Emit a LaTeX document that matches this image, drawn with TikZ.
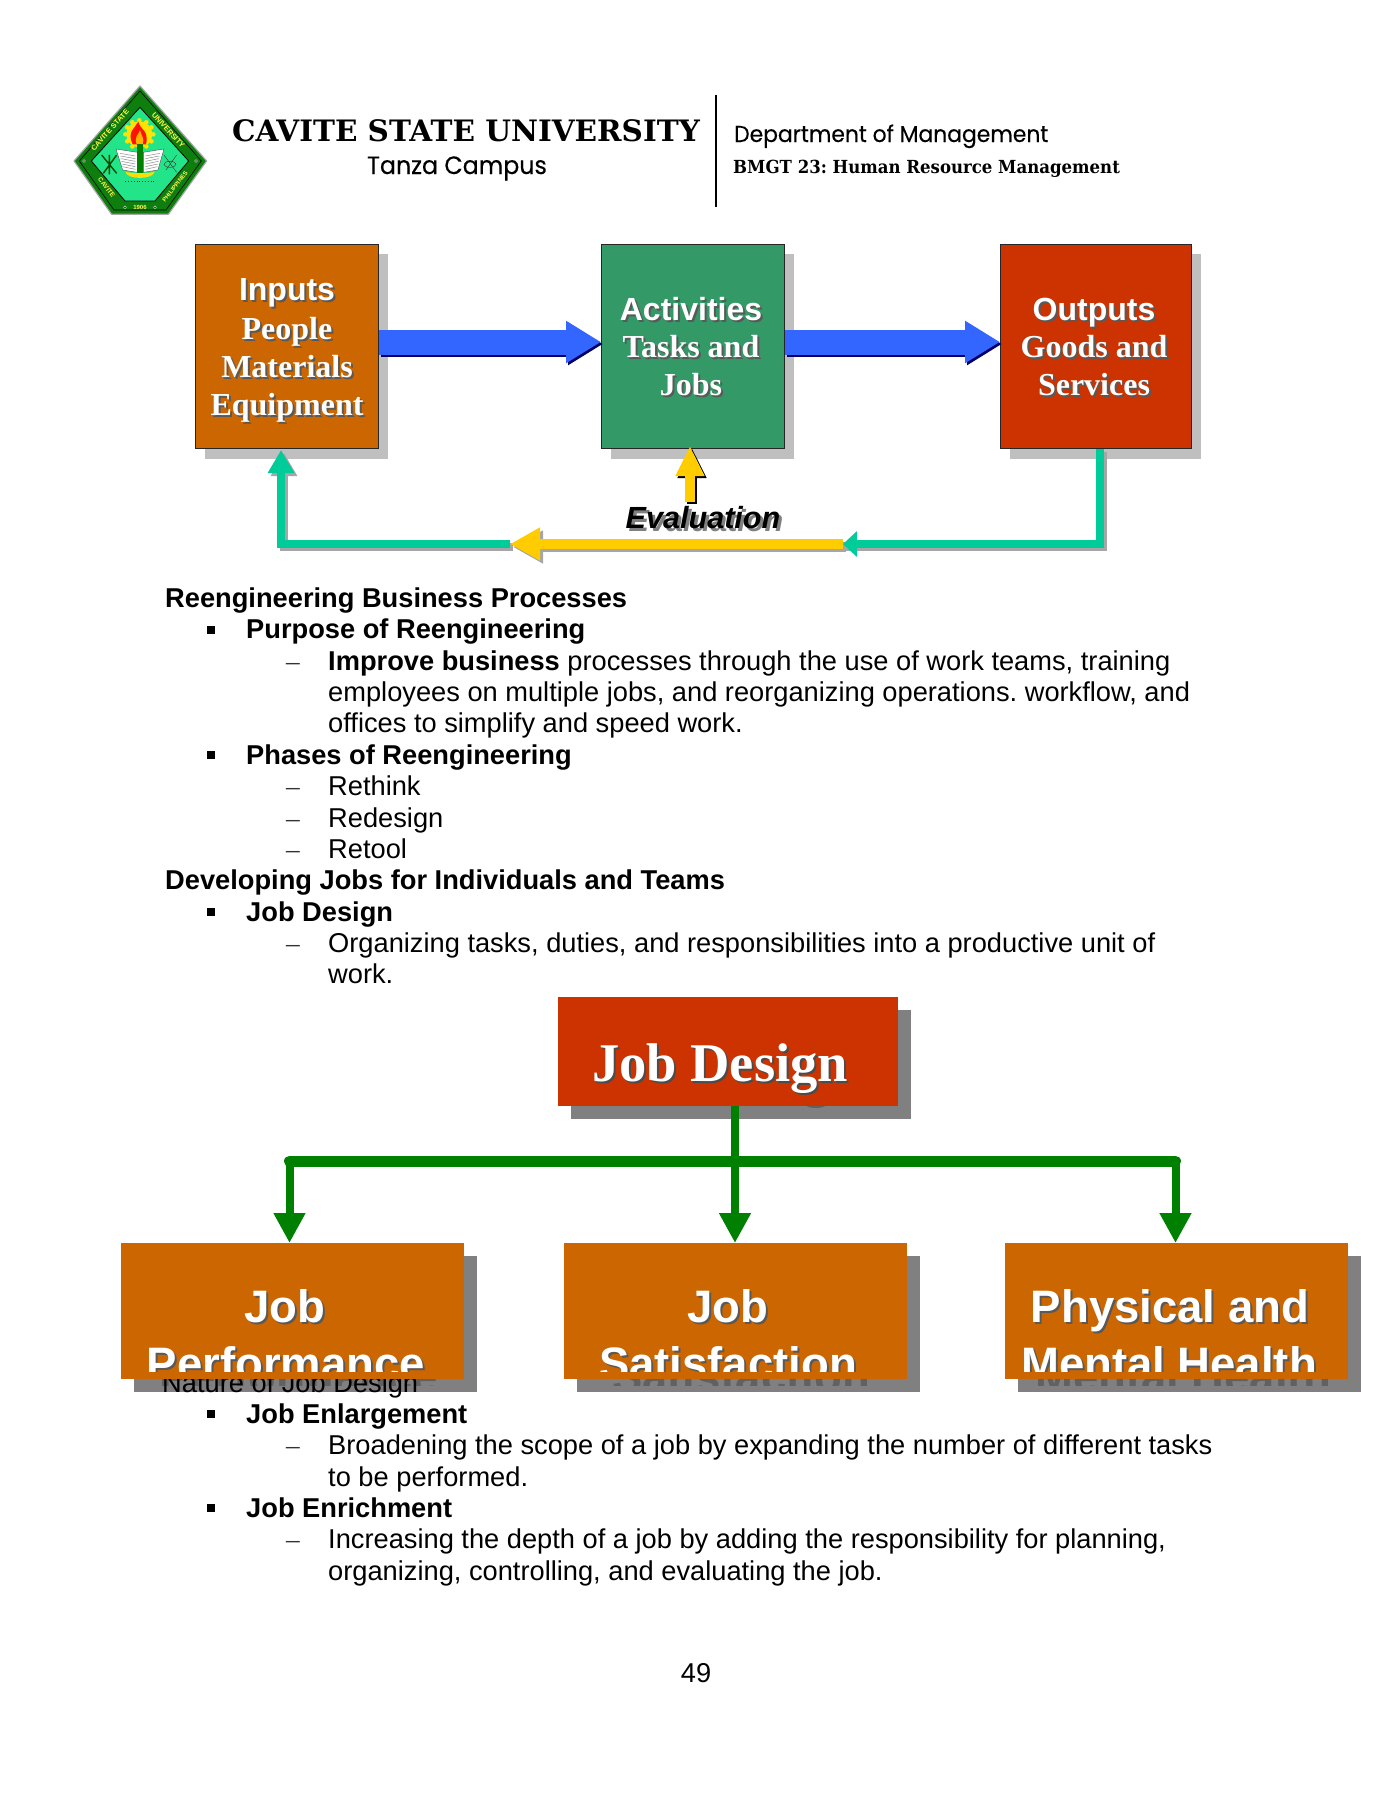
\documentclass[tikz,border=0pt]{standalone}
\usepackage{fontspec}
\usetikzlibrary{arrows.meta,calc}
\setmainfont{Liberation Sans}
\newfontfamily\tmsf{Liberation Serif}
\newfontfamily\slabf{DejaVu Serif}
\newfontfamily\slabn[FakeStretch=0.92]{DejaVu Serif}
\newfontfamily\popf[FakeStretch=0.95,FakeBold=0.3]{Poppins}
\definecolor{corange}{HTML}{CC6600}
\definecolor{cgreen}{HTML}{339966}
\definecolor{cred}{HTML}{CC3300}
\definecolor{cblue}{HTML}{3366FF}
\definecolor{cteal}{HTML}{00CC99}
\definecolor{cyell}{HTML}{FFCC00}
\definecolor{cdark}{HTML}{008000}
\definecolor{logod}{HTML}{0E7F0E}
\definecolor{logol}{HTML}{22E58A}
\tikzset{
 topbox/.style={draw=black!85,line width=1pt,anchor=north west,inner sep=0pt,minimum width=#1},
 lowbox/.style={anchor=north west,inner sep=0pt,minimum width=343pt,minimum height=136pt},
 shadowtop/.style={fill=black!25},
 shadowlow/.style={fill=black!50},
 lineb/.style={anchor=base west,inner sep=0pt,font=\fontsize{27.25}{31}\selectfont\bfseries},
 linet/.style={anchor=base west,inner sep=0pt,font=\fontsize{27.25}{31}\selectfont},
 dashn/.style={anchor=base west,inner sep=0pt,font=\fontsize{27.25}{31}\selectfont\tmsf,text=black!80},
 bul/.style={fill=black,inner sep=0pt,minimum size=8pt},
 lbl/.style={anchor=base,inner sep=0pt},
 blockarrow/.style={line width=25pt,-{Triangle[length=35pt,width=40pt]}},
 tealline/.style={line width=8pt,draw=cteal},
 gline/.style={line width=8pt,draw=cdark},
 garrow/.style={gline,-{Triangle[length=30pt,width=30pt]}},
}
% shadowed text: name, x, y, font, text
\newcommand{\shtxt}[5]{%
 \node[lbl,font=#4,text=black!65] (#1s) at (#2+2,#3+2) {#5};
 \node[lbl,font=#4,text=white] (#1) at (#2,#3) {#5};}
\newcommand{\hfA}{\fontsize{32}{38}\selectfont\bfseries}
\newcommand{\hfB}{\fontsize{32}{38}\selectfont\bfseries\tmsf}
\newcommand{\bfA}{\fontsize{45.5}{54}\selectfont\bfseries}
\newcommand{\bfB}{\fontsize{54.5}{60}\selectfont\bfseries\tmsf}
\frenchspacing
\begin{document}
\begin{tikzpicture}[x=1pt,y=-1pt]
\useasboundingbox (0,0) rectangle (1390,1800);
\fill[white] (0,0) rectangle (1390,1800);
% ---------- logo
\begin{scope}[shift={(60,75)},x=0.3333pt,y=-0.3333pt]
\filldraw[fill=logod,draw=black!35,line width=1.2pt,line join=round] (240,33)--(440,258)--(325,418)--(155,418)--(42,258)--cycle;
\draw[draw=black,line width=.6pt] (240,48)--(424,258)--(318,405)--(162,405)--(58,258)--cycle;
\filldraw[fill=logol,draw=black,line width=.8pt] (240,97)--(386,258)--(285,378)--(195,378)--(94,258)--cycle;
\foreach \i/\px/\py in {a/72/258,b/408/258,c/195/397,d/285/397}{\fill[white] (\px,\py) circle (1.6pt);\fill[black] (\px,\py) circle (.9pt);}
\fill[yellow!85!orange] (238,178) circle (13pt);
\foreach \a in {0,30,...,330}{\fill[yellow!85!orange] (238,178)++(\a:42) circle (2.3pt);}
\fill[red!85!orange] (218,208) .. controls (200,170) and (225,160) .. (235,140) .. controls (240,165) and (268,165) .. (258,208) -- cycle;
\fill[orange!60!yellow] (230,208) .. controls (222,185) and (235,180) .. (240,165) .. controls (245,185) and (254,190) .. (248,208) -- cycle;
\filldraw[fill=white,draw=black!70,line width=.4pt] (168,222)--(232,232)--(232,292)--(188,285)--cycle;
\filldraw[fill=white,draw=black!70,line width=.4pt] (312,222)--(250,232)--(250,292)--(294,285)--cycle;
\foreach \k in {0,1,2,3,4,5}{\draw[black!45,line width=.5pt] (180+\k*1.5,235+\k*8)--(226,243+\k*8);\draw[black!45,line width=.5pt] (300-\k*1.5,235+\k*8)--(256,243+\k*8);}
\fill[cdark] (232,208) rectangle (250,298);
\fill[yellow!80!orange] (196,290) .. controls (210,296) and (270,296) .. (284,290) .. controls (280,315) and (200,315) .. (196,290) -- cycle;
\draw[red!70!black,line width=.8pt,dotted] (196,318)--(282,318);
\draw[black!70!green,line width=1.4pt] (125,240)--(170,295) (170,240)--(130,295) (148,240)--(148,298);
\draw[black!80,line width=.4pt] (330,268) ellipse (6pt and 3pt) (312,240)--(350,292) (350,240)--(318,285);
\node[font=\fontsize{7.5}{8}\selectfont\bfseries,text=yellow!70,rotate=48,inner sep=0pt] (lg1) at (150,165) {CAVITE STATE};
\node[font=\fontsize{7.5}{8}\selectfont\bfseries,text=yellow!70,rotate=-48,inner sep=0pt] (lg2) at (325,165) {UNIVERSITY};
\node[font=\fontsize{6.5}{7}\selectfont\bfseries,text=yellow!70,rotate=-52,inner sep=0pt] (lg3) at (140,338) {CAVITE};
\node[font=\fontsize{6}{7}\selectfont\bfseries,text=yellow!70,rotate=52,inner sep=0pt] (lg4) at (345,335) {PHILIPPINES};
\node[font=\fontsize{6}{7}\selectfont\bfseries,text=yellow!70,inner sep=0pt] (lg5) at (240,398) {1906};
\end{scope}
% ---------- header
\node[lbl,anchor=base,font=\fontsize{29.5}{32}\selectfont\bfseries\slabf] (uni) at (466,141) {CAVITE STATE UNIVERSITY};
\node[lbl,font=\fontsize{25}{28}\selectfont\popf] (tan) at (457,174) {Tanza Campus};
\node (vtop) at (716,94) [inner sep=0pt] {};
\node (vbot) at (716,208) [inner sep=0pt] {};
\draw[black,line width=1.4pt] (vtop)--(vbot);
\node[linet,font=\fontsize{23}{28}\selectfont\popf] (dept) at (734,142) {Department of Management};
\node[lineb,font=\fontsize{18}{22}\selectfont\bfseries\slabn] (bmgt) at (733,173) {BMGT 23: Human Resource Management};
% ---------- top diagram
\fill[shadowtop] (205,254) rectangle (388,459);
\fill[shadowtop] (611,254) rectangle (794,459);
\fill[shadowtop] (1010,254) rectangle (1201,459);
\node[topbox=183pt,minimum height=204pt,fill=corange] (inp) at (195,244) {};
\node[topbox=183pt,minimum height=204pt,fill=cgreen] (act) at (601,244) {};
\node[topbox=191pt,minimum height=204pt,fill=cred] (out) at (1000,244) {};
\shtxt{t1}{287}{300}{\hfA}{Inputs}
\shtxt{t2}{287}{339}{\hfB}{People}
\shtxt{t3}{287}{377}{\hfB}{Materials}
\shtxt{t4}{287}{415}{\hfB}{Equipment}
\shtxt{t5}{691}{320}{\hfA}{Activities}
\shtxt{t6}{691}{357}{\hfB}{Tasks and}
\shtxt{t7}{691}{395}{\hfB}{Jobs}
\shtxt{t8}{1094}{320}{\hfA}{Outputs}
\shtxt{t9}{1094}{357}{\hfB}{Goods and}
\shtxt{t10}{1094}{395}{\hfB}{Services}
\coordinate (ay) at (0,342);
\draw[blockarrow,draw=blue!40!black,transform canvas={xshift=2pt,yshift=-2pt}] (inp.east |- ay) -- (act.west |- ay);
\draw[blockarrow,draw=cblue] (inp.east |- ay) -- (act.west |- ay);
\draw[blockarrow,draw=blue!40!black,transform canvas={xshift=2pt,yshift=-2pt}] (act.east |- ay) -- (out.west |- ay);
\draw[blockarrow,draw=cblue] (act.east |- ay) -- (out.west |- ay);
% feedback
\coordinate (fr) at (1100,544);
\coordinate (fm) at (843,544);
\coordinate (fy) at (510,544);
\coordinate (fl) at (281,544);
\coordinate (ftop) at (281,450);
\begin{scope}[transform canvas={xshift=3pt,yshift=-3pt}]
\draw[tealline,draw=black!35] (out.south -| fr) -- (fr) -- (fm);
\draw[tealline,draw=black!35,-{Triangle[length=23pt,width=25pt]}] (fy) -- (fl) -- (ftop);
\draw[line width=10pt,draw=black!35,-{Triangle[length=30pt,width=31pt]}] (fm) -- (fy);
\end{scope}
\draw[tealline,-{Triangle[length=14pt,width=25pt]}] (out.south -| fr) -- (fr) -- (fm);
\draw[tealline,-{Triangle[length=23pt,width=25pt]}] (fy) -- (fl) -- (ftop);
\draw[line width=10pt,draw=cyell,-{Triangle[length=30pt,width=31pt]}] (fm) -- (fy);
\coordinate (evb) at (690,502);
\draw[line width=10pt,draw=black,transform canvas={xshift=2pt,yshift=-2pt},-{Triangle[length=30pt,width=27pt]}] (evb) -- ($(act.south -| evb)+(0,-3)$);
\draw[line width=10pt,draw=cyell,-{Triangle[length=30pt,width=27pt]}] (evb) -- ($(act.south -| evb)+(0,-3)$);
\node[lbl,font=\fontsize{30.6}{34}\selectfont\bfseries\itshape,text=black!50] (evs) at (706,531) {Evaluation};
\node[lbl,font=\fontsize{30.6}{34}\selectfont\bfseries\itshape,text=black] (ev) at (703,528) {Evaluation};
% ---------- body text
\node[lineb] (b1) at (165,607.4) {Reengineering Business Processes};
\node[bul] (q1) at (211,630) {};
\node[lineb] (b2) at (246,638.7) {Purpose of Reengineering};
\node[dashn] (d1) at (286,670.2) {–};
\node[linet] (b3) at (328,670.2) {\textbf{Improve business} processes through the use of work teams, training};
\node[linet] (b4) at (328,701.7) {employees on multiple jobs, and reorganizing operations. workflow, and};
\node[linet] (b5) at (328,732.9) {offices to simplify and speed work.};
\node[bul] (q2) at (211,755) {};
\node[lineb] (b6) at (246,764.3) {Phases of Reengineering};
\node[dashn] (d2) at (286,795.7) {–};
\node[linet] (b7) at (328,795.7) {Rethink};
\node[dashn] (d3) at (286,827) {–};
\node[linet] (b8) at (328,827) {Redesign};
\node[dashn] (d4) at (286,858.3) {–};
\node[linet] (b9) at (328,858.3) {Retool};
\node[lineb] (b10) at (165,889.7) {Developing Jobs for Individuals and Teams};
\node[bul] (q3) at (211,912) {};
\node[lineb] (b11) at (246,921) {Job Design};
\node[dashn] (d5) at (286,952.4) {–};
\node[linet] (b12) at (328,952.4) {Organizing tasks, duties, and responsibilities into a productive unit of};
\node[linet] (b13) at (328,983.7) {work.};
% ---------- chart shadows
\fill[shadowlow] (571,1010) rectangle (911,1119);
\fill[shadowlow] (134,1256) rectangle (477,1392);
\fill[shadowlow] (577,1256) rectangle (920,1392);
\fill[shadowlow] (1017.5,1256) rectangle (1361,1392);
\begin{scope}
\clip (120,1230) rectangle (1370,1385);
\node[lbl,font=\bfA,text=black!62] (s1) at (299,1392) {Performance};
\node[lbl,font=\bfA,text=black!62] (s2) at (741,1392) {Satisfaction};
\node[lbl,font=\bfA,text=black!62] (s3) at (1183,1392) {Mental Health};
\end{scope}
\node[lbl,font=\bfB,text=black!62] (s0) at (733,1096) {Job Design};
\node[linet] (nat) at (162,1392) {Nature of Job Design};
% ---------- chart boxes
\node[lowbox,fill=cred,minimum width=340pt,minimum height=109pt] (jd) at (558,997) {};
\node[lowbox,fill=corange] (p1) at (121,1243) {};
\node[lowbox,fill=corange] (p2) at (564,1243) {};
\node[lowbox,fill=corange] (p3) at (1004.5,1243) {};
\node[lbl,font=\bfB,text=black!70] (jts) at (722,1083.5) {Job Design};
\node[lbl,font=\bfB,text=white] (jt) at (720,1081.5) {Job Design};
\shtxt{c1}{285}{1322}{\bfA}{Job}
\shtxt{c2}{728}{1322}{\bfA}{Job}
\shtxt{c3}{1170}{1322}{\bfA}{Physical and}
\begin{scope}
\clip (120,1240) rectangle (1370,1371);
\shtxt{c4}{286}{1379}{\bfA}{Performance}
\shtxt{c5}{728}{1379}{\bfA}{Satisfaction}
\shtxt{c6}{1169}{1379}{\bfA}{Mental Health}
\end{scope}
% ---------- chart connectors
\coordinate (cx) at (735,1161);
\coordinate (cl) at (289.5,1161);
\coordinate (cr) at (1175.5,1161);
\draw[garrow] (jd.south -| cx) -- (p2.north -| cx);
\draw[gline,line width=11pt,line cap=round] (cl) -- (cr);
\draw[garrow] (cl) -- (p1.north -| cl);
\draw[garrow] (cr) -- (p3.north -| cr);
% ---------- lower body text
\node[bul] (q4) at (211,1414) {};
\node[lineb] (e1) at (246,1423.3) {Job Enlargement};
\node[dashn] (d6) at (286,1454.7) {–};
\node[linet] (e2) at (328,1454.7) {Broadening the scope of a job by expanding the number of different tasks};
\node[linet] (e3) at (328,1486) {to be performed.};
\node[bul] (q5) at (211,1508) {};
\node[lineb] (e4) at (246,1517.4) {Job Enrichment};
\node[dashn] (d7) at (286,1548.8) {–};
\node[linet] (e5) at (328,1548.8) {Increasing the depth of a job by adding the responsibility for planning,};
\node[linet] (e6) at (328,1580) {organizing, controlling, and evaluating the job.};
\node[lbl,font=\fontsize{27.25}{31}\selectfont] (pg) at (696,1682) {49};
\end{tikzpicture}
\end{document}
